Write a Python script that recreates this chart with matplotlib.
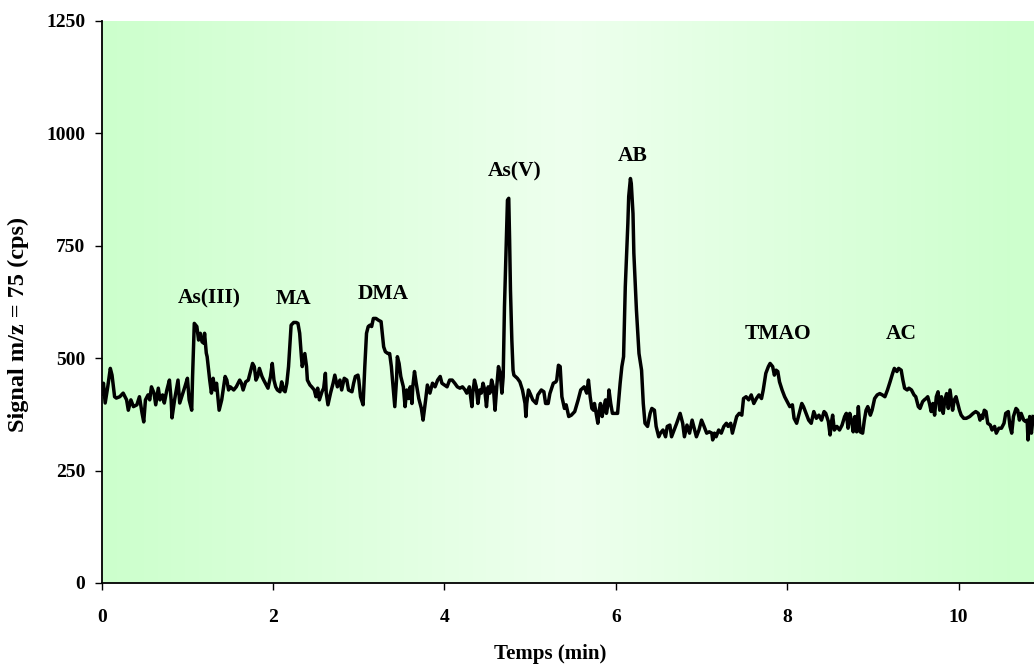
import numpy as np
import matplotlib
matplotlib.use("Agg")
import matplotlib.pyplot as plt

# ---- data ----
time_min = [0.00, 0.02, 0.04, 0.07, 0.10, 0.12, 0.15, 0.17, 0.21, 0.25, 0.29, 0.31, 0.34, 0.37, 0.41, 0.44,
            0.47, 0.49, 0.51, 0.54, 0.56, 0.58, 0.61, 0.63, 0.66, 0.68, 0.71, 0.73, 0.76, 0.79, 0.81, 0.82,
            0.85, 0.89, 0.91, 0.94, 0.97, 1.00, 1.02, 1.05, 1.06, 1.08, 1.11, 1.13, 1.15, 1.17, 1.19, 1.20,
            1.22, 1.23, 1.26, 1.28, 1.30, 1.32, 1.34, 1.37, 1.40, 1.44, 1.46, 1.48, 1.50, 1.54, 1.57, 1.61,
            1.63, 1.65, 1.68, 1.71, 1.74, 1.76, 1.78, 1.80, 1.82, 1.84, 1.87, 1.89, 1.92, 1.94, 1.97, 1.99,
            2.01, 2.03, 2.05, 2.08, 2.10, 2.12, 2.14, 2.16, 2.18, 2.20, 2.21, 2.24, 2.27, 2.29, 2.31, 2.33,
            2.34, 2.37, 2.39, 2.40, 2.43, 2.45, 2.48, 2.50, 2.52, 2.54, 2.57, 2.59, 2.61, 2.62, 2.64, 2.67,
            2.70, 2.72, 2.75, 2.78, 2.80, 2.83, 2.86, 2.88, 2.92, 2.94, 2.96, 2.99, 3.00, 3.02, 3.05, 3.07,
            3.09, 3.11, 3.13, 3.15, 3.17, 3.20, 3.23, 3.26, 3.27, 3.29, 3.31, 3.34, 3.36, 3.38, 3.40, 3.42,
            3.44, 3.45, 3.47, 3.49, 3.52, 3.54, 3.56, 3.58, 3.60, 3.62, 3.63, 3.65, 3.67, 3.70, 3.73, 3.75,
            3.78, 3.80, 3.83, 3.86, 3.89, 3.92, 3.95, 3.97, 4.00, 4.03, 4.06, 4.09, 4.12, 4.15, 4.18, 4.21,
            4.24, 4.26, 4.29, 4.32, 4.33, 4.35, 4.37, 4.39, 4.41, 4.43, 4.45, 4.47, 4.49, 4.51, 4.53, 4.55,
            4.57, 4.59, 4.61, 4.63, 4.65, 4.67, 4.685, 4.70, 4.716, 4.735, 4.75, 4.76, 4.77, 4.786, 4.80, 4.81,
            4.85, 4.88, 4.91, 4.94, 4.95, 4.96, 4.98, 5.00, 5.03, 5.07, 5.09, 5.13, 5.16, 5.18, 5.21, 5.23,
            5.27, 5.30, 5.31, 5.33, 5.35, 5.37, 5.40, 5.42, 5.45, 5.48, 5.52, 5.56, 5.59, 5.63, 5.66, 5.68,
            5.70, 5.72, 5.74, 5.75, 5.79, 5.80, 5.82, 5.84, 5.86, 5.88, 5.89, 5.91, 5.92, 5.94, 5.96, 5.99,
            6.02, 6.05, 6.07, 6.09, 6.10, 6.11, 6.14, 6.15, 6.17, 6.18, 6.20, 6.21, 6.24, 6.27, 6.30, 6.32,
            6.34, 6.37, 6.40, 6.42, 6.45, 6.47, 6.50, 6.52, 6.55, 6.58, 6.60, 6.63, 6.65, 6.68, 6.71, 6.75,
            6.78, 6.80, 6.83, 6.86, 6.89, 6.92, 6.94, 6.97, 7.00, 7.03, 7.06, 7.09, 7.12, 7.13, 7.15, 7.17,
            7.20, 7.23, 7.26, 7.29, 7.31, 7.34, 7.36, 7.39, 7.41, 7.44, 7.47, 7.49, 7.52, 7.55, 7.58, 7.61,
            7.64, 7.67, 7.70, 7.72, 7.75, 7.78, 7.80, 7.83, 7.85, 7.87, 7.89, 7.91, 7.94, 7.97, 8.00, 8.03,
            8.06, 8.08, 8.11, 8.14, 8.17, 8.19, 8.22, 8.25, 8.28, 8.31, 8.34, 8.37, 8.40, 8.43, 8.45, 8.48,
            8.50, 8.52, 8.53, 8.55, 8.58, 8.61, 8.64, 8.67, 8.69, 8.71, 8.73, 8.75, 8.77, 8.79, 8.81, 8.83,
            8.85, 8.88, 8.90, 8.92, 8.94, 8.97, 8.99, 9.02, 9.05, 9.08, 9.11, 9.14, 9.17, 9.20, 9.23, 9.25,
            9.28, 9.30, 9.33, 9.35, 9.37, 9.40, 9.42, 9.45, 9.48, 9.50, 9.53, 9.55, 9.58, 9.60, 9.62, 9.64,
            9.66, 9.68, 9.70, 9.72, 9.74, 9.76, 9.78, 9.80, 9.82, 9.84, 9.86, 9.88, 9.90, 9.93, 9.95, 9.97,
            9.99, 10.01, 10.03, 10.06, 10.09, 10.13, 10.17, 10.20, 10.23, 10.25, 10.27, 10.28, 10.30, 10.32,
            10.34, 10.37, 10.39, 10.42, 10.44, 10.47, 10.50, 10.53, 10.55, 10.58, 10.60, 10.62, 10.64, 10.67,
            10.69, 10.71, 10.73, 10.76, 10.78, 10.80, 10.81, 10.83, 10.85, 10.87]

signal_cps = [420, 444, 400, 436, 477, 462, 414, 411, 414, 422, 407, 384, 407, 392, 396, 414,
              378, 358, 407, 418, 407, 436, 422, 396, 433, 407, 418, 400, 429, 451, 407, 367,
              407, 451, 400, 418, 436, 455, 407, 384, 459, 577, 570, 540, 555, 536, 533, 555,
              511, 503, 451, 422, 455, 429, 444, 384, 407, 459, 451, 429, 436, 429, 436, 451,
              444, 429, 447, 451, 473, 488, 481, 451, 459, 477, 459, 451, 440, 433, 459, 488,
              451, 436, 429, 425, 447, 429, 425, 444, 481, 540, 573, 579, 579, 577, 555, 503,
              481, 510, 481, 451, 440, 436, 429, 414, 433, 407, 425, 433, 466, 422, 396, 422,
              444, 462, 436, 451, 429, 455, 451, 429, 425, 444, 459, 462, 451, 414, 396, 481,
              555, 570, 573, 570, 588, 588, 584, 581, 562, 525, 514, 510, 510, 481, 436, 392,
              451, 503, 488, 459, 436, 392, 429, 410, 436, 399, 436, 470, 444, 410, 388, 362,
              407, 440, 422, 444, 436, 451, 459, 444, 440, 436, 451, 451, 444, 436, 433, 436,
              429, 422, 436, 392, 422, 451, 436, 399, 429, 422, 444, 429, 392, 436, 422, 451,
              436, 384, 436, 481, 466, 422, 458, 614, 725, 851, 855, 762, 651, 540, 473, 462,
              455, 447, 429, 399, 370, 399, 429, 421, 407, 399, 418, 429, 425, 399, 399, 421,
              444, 447, 451, 484, 481, 414, 388, 396, 370, 373, 381, 407, 429, 436, 422, 451,
              414, 388, 384, 399, 355, 377, 399, 370, 392, 407, 377, 399, 429, 399, 377, 377,
              377, 444, 481, 503, 584, 658, 799, 859, 899, 888, 821, 733, 607, 510, 473, 399,
              355, 348, 377, 388, 384, 348, 325, 333, 340, 325, 348, 351, 325, 340, 355, 377,
              355, 325, 351, 333, 362, 340, 325, 340, 362, 348, 333, 336, 333, 318, 333, 325,
              340, 333, 348, 355, 348, 355, 333, 355, 370, 377, 373, 410, 414, 407, 418, 399,
              410, 418, 410, 429, 466, 481, 488, 481, 462, 473, 470, 447, 429, 414, 403, 392,
              396, 366, 355, 377, 399, 392, 377, 362, 355, 381, 366, 373, 362, 381, 377, 359,
              329, 362, 373, 340, 348, 340, 351, 370, 377, 344, 377, 362, 336, 370, 336, 392,
              336, 333, 362, 384, 392, 373, 384, 410, 418, 421, 418, 414, 429, 447, 466, 477,
              470, 477, 473, 451, 433, 429, 433, 429, 418, 414, 392, 388, 403, 407, 410, 414,
              399, 381, 399, 373, 414, 425, 384, 414, 377, 407, 421, 388, 429, 384, 407, 414,
              399, 384, 373, 366, 366, 370, 377, 381, 377, 362, 373, 366, 384, 381,
              355, 351, 340, 348, 333, 344, 344, 355, 377, 381, 348, 333, 370, 388,
              384, 362, 377, 362, 359, 362, 318, 370, 333, 370]

peak_names = ["As(III)", "MA", "DMA", "As(V)", "AB", "TMAO", "AC"]
peak_label_time = [1.26, 2.24, 3.28, 4.82, 6.20, 7.89, 9.33]
peak_label_signal = [632, 632, 642, 915, 950, 553, 553]

x_ticks = [0, 2, 4, 6, 8, 10]
y_ticks = [0, 250, 500, 750, 1000, 1250]

# ---- figure ----
SERIF = ["Liberation Serif", "DejaVu Serif"]
fig = plt.figure(figsize=(10.34, 6.64), dpi=100)
ax = fig.add_axes([0.0984, 0.122, 0.9016, 0.847])

xmax = 10.88
ax.set_xlim(0, xmax)
ax.set_ylim(0, 1250)

# horizontal centre gradient background
n = 512
frac = np.linspace(0, 1, n)
w = 1 - np.abs(frac - 0.5) / 0.5          # 0 at edges, 1 at centre
edge = np.array([204, 255, 204]) / 255.0
centre = np.array([238, 255, 238]) / 255.0
cols = edge[None, :] + (centre - edge)[None, :] * w[:, None]
img = np.tile(cols[None, :, :], (2, 1, 1))
ax.imshow(img, extent=[0, xmax, 0, 1250], aspect="auto", zorder=0, interpolation="bilinear")

ax.plot(time_min, signal_cps, color="black", linewidth=2.5, solid_joinstyle="round", zorder=2)

for name, t, v in zip(peak_names, peak_label_time, peak_label_signal):
    ax.text(t, v, name, ha="center", va="center", fontsize=15.5, fontweight="bold",
            family=SERIF, zorder=3)

for s in ["top", "right"]:
    ax.spines[s].set_visible(False)
for s in ["left", "bottom"]:
    ax.spines[s].set_linewidth(1.3)
    ax.spines[s].set_zorder(4)

ax.set_xticks(x_ticks)
ax.set_yticks(y_ticks)
ax.tick_params(axis="both", direction="out", length=5, width=1)
ax.tick_params(axis="x", pad=14)
ax.tick_params(axis="y", pad=7)
for lab in ax.get_xticklabels() + ax.get_yticklabels():
    lab.set_fontfamily(SERIF)
    lab.set_fontweight("bold")
    lab.set_fontsize(14)

ax.set_xlabel("Temps (min)", fontsize=15, fontweight="bold", family=SERIF)
ax.xaxis.set_label_coords(0.481, -0.108)
ax.set_ylabel("Signal m/z = 75 (cps)", fontsize=17.5, fontweight="bold", family=SERIF)
ax.yaxis.set_label_coords(-0.078, 0.46)

fig.savefig("out.png", dpi=100)
